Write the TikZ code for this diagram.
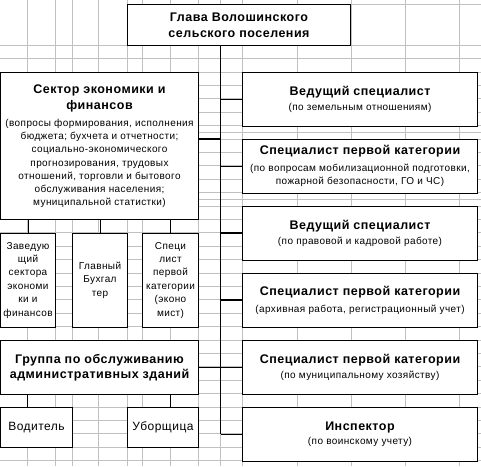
\documentclass[tikz,border=0pt]{standalone}
\usepackage{fontspec}
\setmainfont{Liberation Sans}[LetterSpace=4]
\definecolor{gridc}{RGB}{192,192,192}
\newcommand\ttlfnt{\fontsize{12.5}{16}\selectfont\bfseries}
\newcommand\subfnt{\fontsize{10}{13.3}\selectfont}
\newcommand\smlfnt{\fontsize{10}{13.4}\selectfont}
\newcommand\grpfnt{\fontsize{12.5}{15}\selectfont\bfseries}
\newcommand\wrkfnt{\fontsize{12}{14}\selectfont}
\begin{document}
\begin{tikzpicture}[x=1pt,y=-1pt,
  bx/.style={draw=black, line width=1pt, fill=white, inner sep=0pt, align=center, anchor=north west},
  rbox/.style={bx, minimum width=235pt, minimum height=53.6pt, font=\subfnt},
  conn/.style={line width=1pt},
  heavy/.style={line width=2pt},
  gridl/.style={draw=gridc, line width=0.9pt}]
\fill[white] (0,0) rectangle (481,466);
\useasboundingbox (0,0) rectangle (481,466);
% spreadsheet grid
\foreach \x in {27,55,72,98,127,142,170,198,220,242,297,351,405,459}
  \draw[gridl] (\x,0) -- (\x,466);
\foreach \y in {45.2,58.6,72,85.4,98.8,112.2,125.6,132.3,139,152.4,165.8,179.2,192.6,199.3,206,219.4,232.8,246.2,259.6,273,286.4,299.8,313.2,326.6,340,353.4,366.8,380.2,393.6,407,420.4,433.8,447.2,460.6}
  \draw[gridl] (0,\y) -- (481,\y);
\draw[gridl] (350,4.3) -- (481,4.3);
% boxes
\node[bx, minimum width=223pt, minimum height=41pt, font=\ttlfnt] (head) at (127,4.3)
  {Глава Волошинского\\сельского поселения};
\node[bx, minimum width=198pt, minimum height=147.4pt, font=\subfnt] (sec) at (0,72)
  {{\ttlfnt Сектор экономики и}\\[2.7pt]{\ttlfnt финансов}\\[3.7pt]
   (вопросы формирования, исполнения\\бюджета; бухчета и отчетности;\\социально-экономического\\прогнозирования, трудовых\\отношений, торговли и бытового\\обслуживания населения;\\муниципальной статистки)};
\node[bx, minimum width=55pt, minimum height=93.8pt, font=\smlfnt] (za) at (0,232.8)
  {Заведую\\щий\\сектора\\экономи\\ки и\\финансов};
\node[bx, minimum width=55pt, minimum height=93.8pt, font=\smlfnt] (zb) at (72,232.8)
  {Главный\\Бухгал\\тер};
\node[bx, minimum width=56pt, minimum height=93.8pt, font=\smlfnt] (zc) at (142,232.8)
  {Специ\\лист\\первой\\категории\\(эконо\\мист)};
\node[bx, minimum width=198pt, minimum height=53.6pt, font=\grpfnt] (grp) at (0,340)
  {Группа по обслуживанию\\административных зданий};
\node[bx, minimum width=72pt, minimum height=40.2pt, font=\wrkfnt] (drv) at (0,407) {Водитель};
\node[bx, minimum width=71pt, minimum height=40.2pt, font=\wrkfnt] (cln) at (127,407) {Уборщица};
\node[rbox] (b1) at (242,72)
  {{\ttlfnt Ведущий специалист}\\[1pt](по земельным отношениям)};
\node[rbox] (b2) at (242,139)
  {{\ttlfnt Специалист первой категории}\\[3.5pt](по вопросам мобилизационной подготовки,\\пожарной безопасности, ГО и ЧС)};
\node[rbox] (b3) at (242,206)
  {{\ttlfnt Ведущий специалист}\\[2pt](по правовой и кадровой работе)};
\node[rbox] (b4) at (242,273)
  {{\ttlfnt Специалист первой категории}\\[3pt](архивная работа, регистрационный учет)};
\node[rbox] (b5) at (242,340)
  {{\ttlfnt Специалист первой категории}\\[2pt](по муниципальному хозяйству)};
\node[rbox] (b6) at (242,407)
  {{\ttlfnt Инспектор}\\[1pt](по воинскому учету)};
% connectors
\coordinate (sp) at (220.5,433.8);
\coordinate (sy) at (0,139);
\coordinate (dx1) at (27,0);
\coordinate (dx2) at (170,0);
\draw[conn] (sp |- head.south) -- (sp);
\foreach \b in {b1,b2,b5,b6}
  \draw[conn] (\b.west) -- (\b.west -| sp);
\foreach \b in {b3,b4}
  \draw[heavy] (\b.west) -- (\b.west -| sp);
\draw[heavy] (sec.east |- sy) -- (sp |- sy);
\draw[conn] (grp.east) -- (grp.east -| sp);
\foreach \z in {za,zb,zc}
  \draw[conn] (\z.north) -- (\z.north |- sec.south);
\draw[conn] (dx1 |- grp.south) -- (dx1 |- drv.north);
\draw[conn] (dx2 |- grp.south) -- (dx2 |- cln.north);
\end{tikzpicture}
\end{document}
